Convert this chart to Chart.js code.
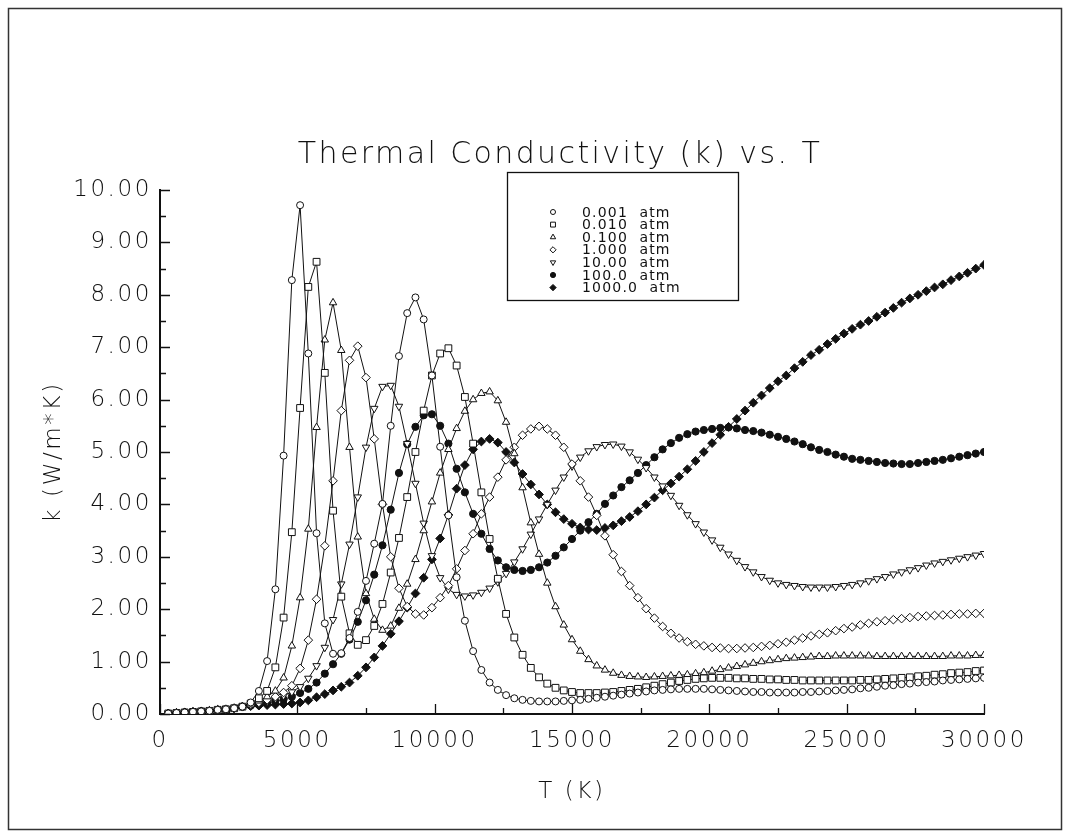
<!DOCTYPE html>
<html>
<head>
<meta charset="utf-8">
<title>Thermal Conductivity (k) vs. T</title>
<script src="https://cdn.jsdelivr.net/npm/chart.js@4.4.1/dist/chart.umd.min.js"></script>
<style>
  html, body { margin: 0; padding: 0; background: #ffffff; }
  #wrap { width: 1071px; height: 836px; position: relative; }
  canvas { display: block; }
</style>
</head>
<body>
<div id="wrap"><canvas id="chart" width="1071" height="836"></canvas></div>
<script>
// Temperature grid (K)
const temperatures = [
  300, 600, 900, 1200, 1500, 1800, 2100, 2400, 2700, 3000,
  3300, 3600, 3900, 4200, 4500, 4800, 5100, 5400, 5700, 6000,
  6300, 6600, 6900, 7200, 7500, 7800, 8100, 8400, 8700, 9000,
  9300, 9600, 9900, 10200, 10500, 10800, 11100, 11400, 11700, 12000,
  12300, 12600, 12900, 13200, 13500, 13800, 14100, 14400, 14700, 15000,
  15300, 15600, 15900, 16200, 16500, 16800, 17100, 17400, 17700, 18000,
  18300, 18600, 18900, 19200, 19500, 19800, 20100, 20400, 20700, 21000,
  21300, 21600, 21900, 22200, 22500, 22800, 23100, 23400, 23700, 24000,
  24300, 24600, 24900, 25200, 25500, 25800, 26100, 26400, 26700, 27000,
  27300, 27600, 27900, 28200, 28500, 28800, 29100, 29400, 29700, 30000
];

// Thermal conductivity k (W/m*K) at each pressure
const k_0_001atm = [
  0.01, 0.02, 0.03, 0.04, 0.05, 0.06, 0.08, 0.09, 0.11, 0.14,
  0.22, 0.44, 1.01, 2.38, 4.93, 8.28, 9.71, 6.88, 3.45, 1.73,
  1.15, 1.16, 1.45, 1.95, 2.54, 3.25, 4.01, 5.50, 6.83, 7.65,
  7.95, 7.53, 6.46, 5.10, 3.79, 2.61, 1.78, 1.20, 0.84, 0.60,
  0.46, 0.36, 0.30, 0.27, 0.25, 0.24, 0.24, 0.24, 0.25, 0.26,
  0.27, 0.29, 0.31, 0.33, 0.35, 0.37, 0.39, 0.41, 0.43, 0.45,
  0.46, 0.47, 0.48, 0.48, 0.48, 0.48, 0.47, 0.46, 0.45, 0.44,
  0.43, 0.42, 0.42, 0.41, 0.41, 0.41, 0.41, 0.42, 0.42, 0.43,
  0.44, 0.45, 0.46, 0.47, 0.49, 0.50, 0.52, 0.54, 0.55, 0.57,
  0.58, 0.60, 0.61, 0.62, 0.64, 0.65, 0.66, 0.67, 0.68, 0.69
];
const k_0_010atm = [
  0.01, 0.02, 0.03, 0.04, 0.05, 0.06, 0.08, 0.09, 0.11, 0.14,
  0.20, 0.30, 0.44, 0.89, 1.84, 3.47, 5.84, 8.15, 8.63, 6.51,
  3.88, 2.24, 1.54, 1.32, 1.41, 1.68, 2.10, 2.70, 3.36, 4.14,
  5.00, 5.79, 6.46, 6.88, 6.98, 6.65, 6.05, 5.16, 4.23, 3.34,
  2.58, 1.91, 1.46, 1.13, 0.88, 0.70, 0.58, 0.50, 0.45, 0.42,
  0.40, 0.40, 0.40, 0.41, 0.42, 0.44, 0.46, 0.48, 0.51, 0.54,
  0.57, 0.60, 0.63, 0.65, 0.67, 0.68, 0.69, 0.69, 0.69, 0.68,
  0.68, 0.67, 0.67, 0.66, 0.66, 0.65, 0.65, 0.64, 0.64, 0.64,
  0.64, 0.64, 0.64, 0.64, 0.65, 0.65, 0.66, 0.67, 0.68, 0.69,
  0.70, 0.72, 0.73, 0.75, 0.76, 0.78, 0.79, 0.80, 0.82, 0.83
];
const k_0_100atm = [
  0.01, 0.02, 0.03, 0.04, 0.05, 0.06, 0.08, 0.09, 0.11, 0.14,
  0.19, 0.25, 0.33, 0.44, 0.69, 1.30, 2.22, 3.53, 5.47, 7.14,
  7.85, 6.94, 5.09, 3.38, 2.30, 1.81, 1.60, 1.68, 2.02, 2.48,
  2.95, 3.50, 4.05, 4.60, 5.05, 5.45, 5.78, 6.00, 6.12, 6.15,
  5.98, 5.57, 4.97, 4.32, 3.65, 3.05, 2.50, 2.05, 1.70, 1.42,
  1.20, 1.04, 0.92, 0.84, 0.78, 0.74, 0.72, 0.71, 0.70, 0.71,
  0.72, 0.73, 0.74, 0.75, 0.77, 0.79, 0.82, 0.85, 0.88, 0.91,
  0.94, 0.97, 1.00, 1.02, 1.04, 1.06, 1.07, 1.08, 1.09, 1.10,
  1.10, 1.11, 1.11, 1.11, 1.11, 1.11, 1.10, 1.10, 1.10, 1.10,
  1.10, 1.10, 1.10, 1.10, 1.10, 1.11, 1.11, 1.11, 1.12, 1.12
];
const k_1_000atm = [
  0.01, 0.02, 0.03, 0.04, 0.05, 0.06, 0.08, 0.09, 0.11, 0.14,
  0.18, 0.22, 0.27, 0.33, 0.41, 0.54, 0.87, 1.41, 2.19, 3.21,
  4.45, 5.79, 6.75, 7.02, 6.42, 5.25, 4.00, 3.00, 2.40, 2.05,
  1.91, 1.89, 2.03, 2.22, 2.45, 2.77, 3.12, 3.44, 3.82, 4.14,
  4.52, 4.85, 5.09, 5.32, 5.44, 5.49, 5.44, 5.32, 5.09, 4.77,
  4.45, 4.14, 3.79, 3.40, 3.04, 2.72, 2.45, 2.22, 2.01, 1.83,
  1.67, 1.54, 1.45, 1.38, 1.33, 1.30, 1.27, 1.26, 1.25, 1.25,
  1.26, 1.27, 1.29, 1.31, 1.34, 1.37, 1.41, 1.45, 1.49, 1.52,
  1.55, 1.59, 1.63, 1.66, 1.70, 1.73, 1.76, 1.78, 1.80, 1.82,
  1.84, 1.86, 1.87, 1.88, 1.89, 1.90, 1.91, 1.91, 1.92, 1.92
];
const k_10_00atm = [
  0.01, 0.02, 0.03, 0.04, 0.05, 0.06, 0.08, 0.09, 0.11, 0.14,
  0.17, 0.20, 0.24, 0.29, 0.35, 0.42, 0.52, 0.68, 0.92, 1.27,
  1.80, 2.48, 3.24, 4.14, 5.09, 5.83, 6.25, 6.27, 5.87, 5.16,
  4.40, 3.64, 3.02, 2.60, 2.38, 2.28, 2.25, 2.27, 2.32, 2.40,
  2.52, 2.68, 2.90, 3.15, 3.43, 3.72, 4.00, 4.27, 4.52, 4.73,
  4.90, 5.02, 5.10, 5.14, 5.15, 5.11, 5.00, 4.86, 4.70, 4.52,
  4.35, 4.17, 3.98, 3.80, 3.63, 3.47, 3.32, 3.18, 3.05, 2.93,
  2.81, 2.71, 2.62, 2.55, 2.50, 2.47, 2.45, 2.43, 2.42, 2.42,
  2.42, 2.43, 2.45, 2.47, 2.50, 2.54, 2.58, 2.62, 2.67, 2.71,
  2.75, 2.79, 2.84, 2.88, 2.91, 2.94, 2.97, 3.00, 3.03, 3.06
];
const k_100_0atm = [
  0.01, 0.02, 0.03, 0.04, 0.05, 0.06, 0.08, 0.09, 0.11, 0.14,
  0.16, 0.18, 0.21, 0.24, 0.28, 0.33, 0.40, 0.48, 0.60, 0.77,
  0.95, 1.15, 1.42, 1.76, 2.17, 2.66, 3.22, 3.90, 4.60, 5.15,
  5.48, 5.70, 5.72, 5.50, 5.16, 4.68, 4.23, 3.82, 3.44, 3.15,
  2.93, 2.80, 2.75, 2.73, 2.75, 2.80, 2.89, 3.02, 3.18, 3.34,
  3.50, 3.66, 3.82, 4.01, 4.17, 4.33, 4.46, 4.60, 4.75, 4.90,
  5.05, 5.17, 5.27, 5.34, 5.39, 5.42, 5.44, 5.46, 5.47, 5.45,
  5.42, 5.40, 5.37, 5.33, 5.29, 5.25, 5.20, 5.15, 5.09, 5.04,
  5.00, 4.95, 4.91, 4.87, 4.85, 4.83, 4.81, 4.79, 4.78, 4.77,
  4.77, 4.79, 4.81, 4.83, 4.85, 4.88, 4.91, 4.94, 4.97, 5.00
];
const k_1000_0atm = [
  0.01, 0.02, 0.03, 0.04, 0.05, 0.06, 0.08, 0.09, 0.11, 0.14,
  0.15, 0.16, 0.17, 0.18, 0.19, 0.20, 0.22, 0.26, 0.32, 0.38,
  0.45, 0.52, 0.60, 0.73, 0.89, 1.08, 1.30, 1.53, 1.77, 2.03,
  2.30, 2.60, 2.95, 3.35, 3.80, 4.30, 4.75, 5.05, 5.20, 5.25,
  5.18, 5.00, 4.80, 4.58, 4.38, 4.19, 4.00, 3.85, 3.72, 3.63,
  3.56, 3.52, 3.51, 3.55, 3.60, 3.68, 3.76, 3.87, 4.00, 4.13,
  4.27, 4.40, 4.53, 4.67, 4.83, 5.00, 5.17, 5.33, 5.48, 5.63,
  5.79, 5.94, 6.08, 6.22, 6.35, 6.46, 6.60, 6.72, 6.85, 6.95,
  7.06, 7.16, 7.26, 7.35, 7.43, 7.50, 7.58, 7.66, 7.75, 7.85,
  7.93, 8.00, 8.07, 8.14, 8.20, 8.28, 8.35, 8.42, 8.50, 8.57
];

const pressureLabels = ['0.001  atm', '0.010  atm', '0.100  atm', '1.000  atm', '10.00  atm', '100.0  atm', '1000.0  atm'];
const xTickValues = [0, 5000, 10000, 15000, 20000, 25000, 30000];
const yTickValues = [0, 1, 2, 3, 4, 5, 6, 7, 8, 9, 10];

const FONT = "'DejaVu Sans', 'Liberation Sans', sans-serif";
const INK = '#111111';

function series(label, values, style, filled, radius, rotation) {
  return {
    label: label,
    data: temperatures.map((t, i) => ({ x: t, y: values[i] })),
    borderColor: INK,
    borderWidth: 1,
    pointStyle: style,
    pointRotation: rotation || 0,
    pointRadius: radius,
    pointHoverRadius: radius,
    pointBorderWidth: 1,
    pointBorderColor: INK,
    pointBackgroundColor: filled ? INK : '#ffffff',
    backgroundColor: filled ? INK : '#ffffff',
    tension: 0,
    fill: false
  };
}

const datasets = [
  series(pressureLabels[0], k_0_001atm, 'circle', false, 3.5),
  series(pressureLabels[1], k_0_010atm, 'rect', false, 4.8),
  series(pressureLabels[2], k_0_100atm, 'triangle', false, 4.3),
  series(pressureLabels[3], k_1_000atm, 'rectRot', false, 4.3),
  series(pressureLabels[4], k_10_00atm, 'triangle', false, 4.3, 180),
  series(pressureLabels[5], k_100_0atm, 'circle', true, 3.6),
  series(pressureLabels[6], k_1000_0atm, 'rectRot', true, 4.4)
];

// Inward tick marks, outer frame, title and boxed legend
const decorations = {
  id: 'decorations',
  beforeDraw(chart) {
    chart.ctx.letterSpacing = '2.6px';
  },
  afterDraw(chart) {
    const ctx = chart.ctx;
    const xs = chart.scales.x, ys = chart.scales.y;
    const area = chart.chartArea;
    ctx.save();
    ctx.strokeStyle = INK;
    ctx.lineWidth = 1.3;
    ctx.beginPath();
    // x ticks (major every 5000, minor every 2500)
    for (let v = 0; v <= 30000; v += 2500) {
      const px = Math.round(xs.getPixelForValue(v)) + 0.5;
      const len = (v % 5000 === 0) ? 10 : 6;
      ctx.moveTo(px, area.bottom);
      ctx.lineTo(px, area.bottom - len);
    }
    // y ticks (major every 1, minor every 0.5)
    for (let v = 0; v <= 10; v += 0.5) {
      const py = Math.round(ys.getPixelForValue(v)) + 0.5;
      const len = (v % 1 === 0) ? 10 : 6;
      ctx.moveTo(area.left, py);
      ctx.lineTo(area.left + len, py);
    }
    ctx.stroke();

    // outer frame
    ctx.lineWidth = 1.5;
    ctx.strokeStyle = '#333333';
    ctx.strokeRect(8.5, 8.5, 1053, 821);

    // title
    ctx.fillStyle = INK;
    ctx.font = '200 30px ' + FONT;
    ctx.letterSpacing = '2.4px';
    ctx.textAlign = 'center';
    ctx.textBaseline = 'middle';
    ctx.fillText('Thermal Conductivity (k) vs. T', 560, 155);

    // legend box
    const box = { left: 507, top: 172, right: 738, bottom: 300 };
    ctx.fillStyle = '#ffffff';
    ctx.fillRect(box.left, box.top, box.right - box.left, box.bottom - box.top);
    ctx.lineWidth = 1.3;
    ctx.strokeStyle = INK;
    ctx.strokeRect(box.left + 0.5, box.top + 0.5, box.right - box.left, box.bottom - box.top);

    ctx.font = '14px ' + FONT;
    ctx.letterSpacing = '1.2px';
    ctx.textAlign = 'left';
    ctx.textBaseline = 'middle';
    chart.data.datasets.forEach((ds, i) => {
      const y = 212 + i * 12.6;
      ctx.fillStyle = ds.pointBackgroundColor;
      ctx.strokeStyle = INK;
      ctx.lineWidth = 1;
      Chart.helpers.drawPoint(ctx, {
        pointStyle: ds.pointStyle,
        rotation: ds.pointRotation,
        radius: ds.pointRadius * 0.72,
        borderWidth: 1
      }, 553, y);
      ctx.fillStyle = INK;
      ctx.fillText(ds.label, 582, y + 1);
    });
    ctx.restore();
  }
};

new Chart(document.getElementById('chart'), {
  type: 'line',
  data: { datasets: datasets },
  plugins: [decorations],
  options: {
    responsive: false,
    devicePixelRatio: 1,
    animation: false,
    events: [],
    layout: { padding: { left: 0, top: 190, right: 87, bottom: 0 } },
    plugins: {
      legend: { display: false },
      title: { display: false },
      tooltip: { enabled: false }
    },
    scales: {
      x: {
        type: 'linear',
        min: 0,
        max: 30000,
        grid: { display: false, drawTicks: false },
        border: { display: true, color: INK, width: 2 },
        afterBuildTicks(scale) { scale.ticks = xTickValues.map(v => ({ value: v })); },
        afterFit(scale) { scale.height = 122; scale.paddingLeft = 0; scale.paddingRight = 0; },
        ticks: {
          color: INK,
          padding: 13,
          maxRotation: 0,
          autoSkip: false,
          font: { family: FONT, size: 23, weight: '200' },
          callback: (v) => String(v)
        },
        title: {
          display: true,
          text: 'T (K)',
          color: INK,
          padding: 30,
          font: { family: FONT, size: 23, weight: '200' }
        }
      },
      y: {
        type: 'linear',
        min: 0,
        max: 10,
        grid: { display: false, drawTicks: false },
        border: { display: true, color: INK, width: 2 },
        afterBuildTicks(scale) { scale.ticks = yTickValues.map(v => ({ value: v })); },
        afterFit(scale) { scale.width = 160; scale.paddingTop = 0; scale.paddingBottom = 0; },
        ticks: {
          color: INK,
          padding: 8,
          autoSkip: false,
          font: { family: FONT, size: 23, weight: '200' },
          callback: (v) => Number(v).toFixed(2)
        },
        title: {
          display: true,
          text: 'k (W/m*K)',
          color: INK,
          padding: 40,
          font: { family: FONT, size: 23, weight: '200' }
        }
      }
    }
  }
});
</script>
</body>
</html>
